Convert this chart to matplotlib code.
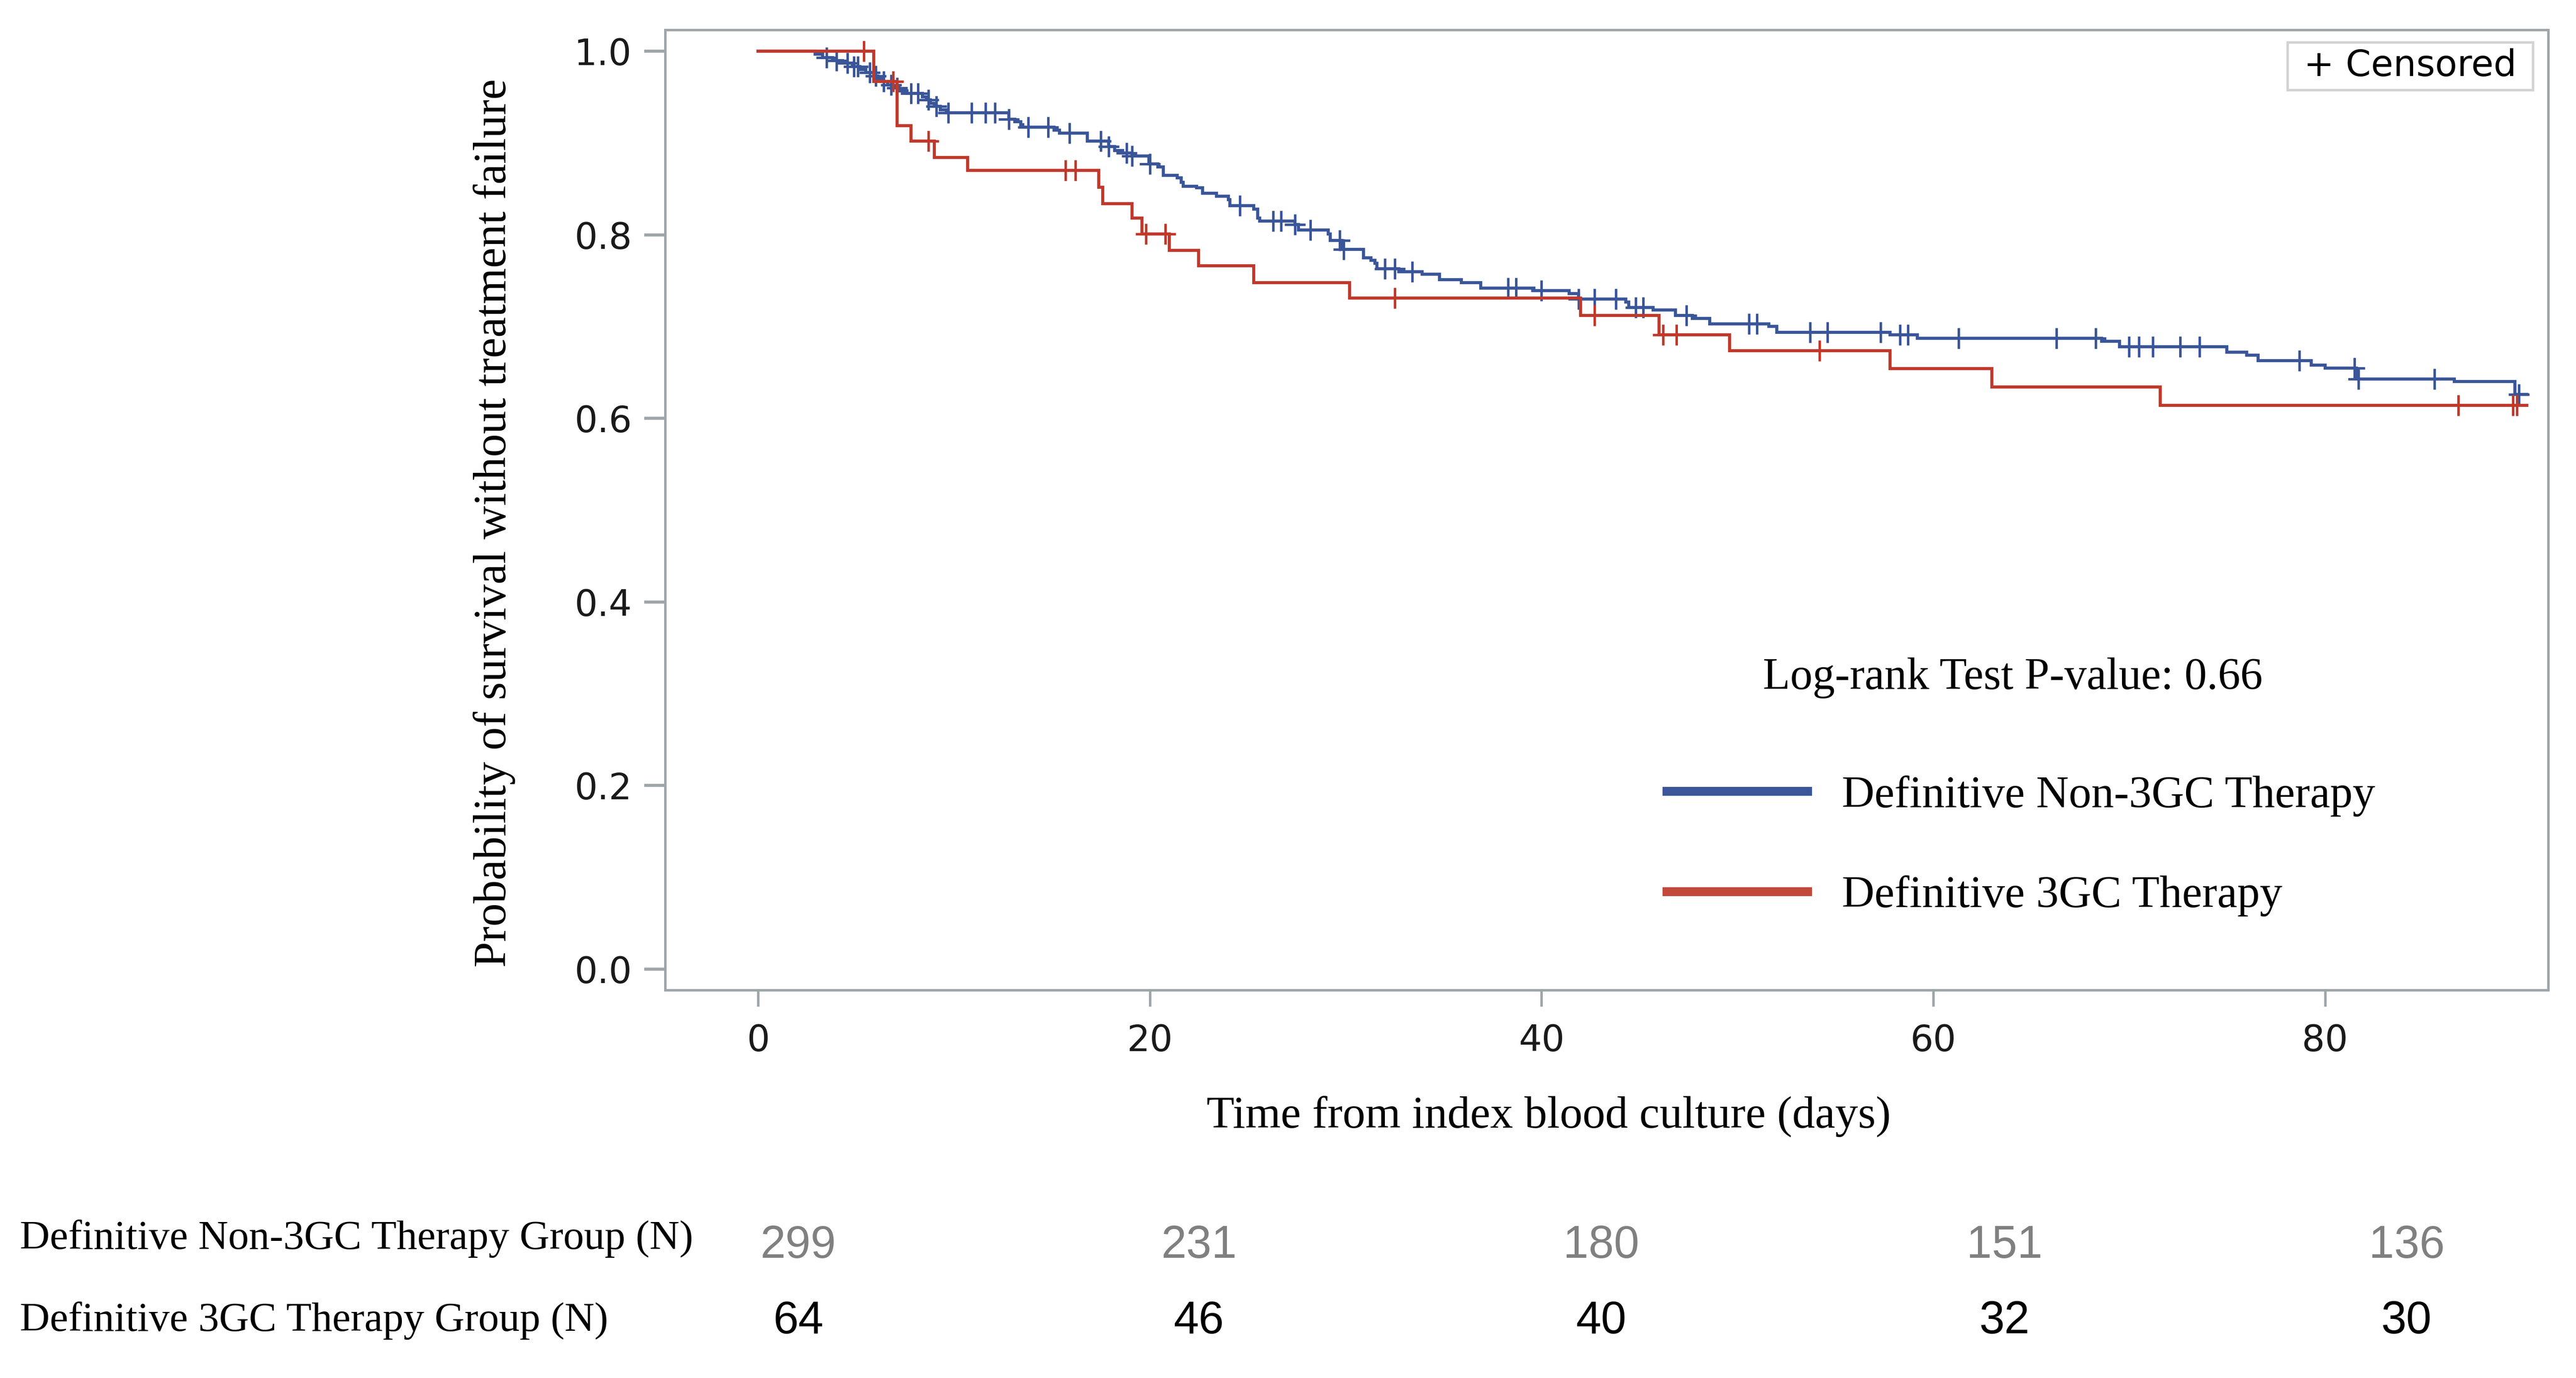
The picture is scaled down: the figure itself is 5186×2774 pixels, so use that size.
import numpy as np
import matplotlib
matplotlib.use('Agg')
import matplotlib.pyplot as plt
from matplotlib.lines import Line2D
from matplotlib.patches import Rectangle

# ---------------- data ----------------
# Definitive Non-3GC Therapy (blue): step times (days) and survival after each step
blue_times = [0, 2.9, 3.3, 3.8, 4.3, 4.8, 5.2, 5.5, 5.9, 6.1, 6.3, 6.6, 6.9, 7.2, 7.6,
              8.4, 8.6, 8.8, 9.0, 9.3, 9.6, 12.8, 13.1, 13.4, 13.5, 15.1, 15.4, 16.8,
              17.9, 18.2, 18.6, 19.1, 19.95, 20.4, 20.7, 21.4, 21.6, 21.7, 22.4, 22.7,
              23.4, 24.0, 24.1, 25.3, 25.5, 25.6, 27.4, 27.6, 29.1, 29.2, 29.8, 30.9,
              31.3, 31.5, 31.6, 32.7, 33.9, 34.8, 35.9, 36.9, 39.6, 41.4, 41.9, 44.3,
              44.45, 45.7, 46.85, 47.7, 48.6, 51.6, 52.0, 57.8, 59.2, 68.6, 69.5, 75.0,
              76.0, 76.6, 79.3, 80.0, 81.6, 86.6, 89.7]
blue_surv = [1.0, 0.997, 0.993, 0.990, 0.987, 0.983, 0.980, 0.977, 0.973, 0.970, 0.967,
             0.963, 0.960, 0.957, 0.954, 0.950, 0.947, 0.943, 0.940, 0.936, 0.933, 0.926,
             0.923, 0.920, 0.917, 0.914, 0.911, 0.902, 0.896, 0.892, 0.889, 0.886, 0.877,
             0.874, 0.865, 0.862, 0.857, 0.853, 0.851, 0.845, 0.842, 0.838, 0.832, 0.828,
             0.818, 0.815, 0.811, 0.805, 0.801, 0.794, 0.784, 0.775, 0.772, 0.769, 0.763,
             0.760, 0.757, 0.751, 0.748, 0.742, 0.739, 0.736, 0.730, 0.727, 0.721, 0.718,
             0.712, 0.709, 0.703, 0.700, 0.694, 0.691, 0.687, 0.684, 0.678, 0.672, 0.669,
             0.663, 0.658, 0.655, 0.643, 0.640, 0.626]
blue_end = 90.3
blue_censor = [3.5, 4.0, 4.55, 4.9, 5.1, 5.7, 6.0, 6.4, 6.8, 7.1, 7.8, 8.15, 8.7, 9.1,
               9.7, 10.9, 11.6, 12.1, 12.8, 13.8, 14.8, 15.9, 17.5, 17.9, 18.8, 19.1,
               20.0, 24.6, 26.3, 26.7, 27.4, 28.2, 29.7, 29.9, 32.0, 32.5, 33.4, 38.3,
               38.7, 40.0, 41.9, 42.7, 43.8, 44.8, 45.2, 47.4, 50.6, 51.0, 53.7, 54.6,
               57.3, 58.3, 58.7, 61.3, 66.3, 68.3, 70.0, 70.5, 71.2, 72.6, 73.6, 78.7,
               81.5, 81.7, 85.6, 89.9]

# Definitive 3GC Therapy (red)
red_times = [0, 5.9, 7.1, 7.8, 9.0, 10.7, 17.4, 17.6, 19.1, 19.6, 21.0, 22.5, 25.3,
             30.2, 42.0, 46.0, 49.6, 57.8, 63.0, 71.6]
red_surv = [1.0, 0.967, 0.919, 0.902, 0.884, 0.870, 0.852, 0.834, 0.818, 0.801, 0.783,
            0.766, 0.748, 0.731, 0.712, 0.691, 0.674, 0.654, 0.634, 0.614]
red_end = 90.3
red_censor = [5.4, 6.9, 8.7, 15.7, 16.2, 19.8, 20.8, 32.5, 42.7, 46.2, 46.9, 54.2,
              86.8, 89.6, 89.8]

x_ticks = [0, 20, 40, 60, 80]
y_ticks = [0.0, 0.2, 0.4, 0.6, 0.8, 1.0]

series_labels = ['Definitive Non-3GC Therapy', 'Definitive 3GC Therapy']
risk_labels = ['Definitive Non-3GC Therapy Group (N)', 'Definitive 3GC Therapy Group (N)']
risk_nonthreegc = [299, 231, 180, 151, 136]
risk_threegc = [64, 46, 40, 32, 30]
pvalue_text = 'Log-rank Test P-value: 0.66'

# ---------------- style ----------------
W, H, DPI = 5186, 2774, 300
BLUE = '#3A5699'
RED = '#C0392B'
RED_LEG = '#C2483C'
SPINE = '#9FA6AA'
SERIF = ['Liberation Serif', 'DejaVu Serif']
SANS = ['DejaVu Sans']
NARROW = ['Liberation Sans Narrow', 'Liberation Sans', 'DejaVu Sans']


def fx(px):
    return px / W


def fy(py):
    return 1 - py / H


fig = plt.figure(figsize=(W / DPI, H / DPI), dpi=DPI)
AX_L, AX_R, AX_T, AX_B = 1339, 5130, 60, 1993
ax = fig.add_axes([fx(AX_L), fy(AX_B), (AX_R - AX_L) / W, (AX_B - AX_T) / H])
ax.set_xlim(-4.75, 91.4)
ax.set_ylim(-0.0227, 1.0233)


def km(times, surv, end, censor, color):
    times = np.asarray(times, float)
    surv = np.asarray(surv, float)
    t = np.append(times, end)
    s = np.append(surv, surv[-1])
    ax.step(t, s, where='post', color=color, lw=1.5, solid_joinstyle='miter', zorder=3)
    idx = np.searchsorted(times, np.asarray(censor, float), side='right') - 1
    ax.plot(censor, surv[idx], ls='none', marker='+', ms=10, mew=1.2, color=color, zorder=3)


km(blue_times, blue_surv, blue_end, blue_censor, BLUE)
km(red_times, red_surv, red_end, red_censor, RED)

ax.set_xticks(x_ticks)
ax.set_xticklabels([str(v) for v in x_ticks])
ax.set_yticks(y_ticks)
ax.set_yticklabels([f'{v:.1f}' for v in y_ticks])
for lab in ax.get_xticklabels() + ax.get_yticklabels():
    lab.set_family(SANS)
    lab.set_color('#1a1a1a')
ax.tick_params(axis='x', length=8, width=1.2, color=SPINE, pad=8, labelsize=17.5)
ax.tick_params(axis='y', length=10, width=1.5, color=SPINE, pad=6, labelsize=17.5)
for sp in ax.spines.values():
    sp.set_color(SPINE)
    sp.set_linewidth(1.2)

W_AX = AX_R - AX_L
H_AX = AX_B - AX_T
ax.set_xlabel('Time from index blood culture (days)', family=SERIF, fontsize=22)
ax.xaxis.label.set_va('baseline')
ax.xaxis.set_label_coords((3118 - AX_L) / W_AX, (AX_B - 2270) / H_AX)
ax.set_ylabel('Probability of survival without treatment failure', family=SERIF, fontsize=22.4)
ax.yaxis.label.set_va('center')
ax.yaxis.set_label_coords((995 - AX_L) / W_AX, (AX_B - 1053) / H_AX)

# p-value text
fig.text(fx(4052), fy(1387), pvalue_text, ha='center', va='baseline', family=SERIF, fontsize=21.6)

# group legend
handles = [Line2D([], [], color=BLUE, lw=4.3), Line2D([], [], color=RED_LEG, lw=4.3)]
fig.legend(handles, series_labels, loc='center left', bbox_to_anchor=(fx(3356), fy(1703)),
           frameon=False, prop={'family': SERIF, 'size': 21.8}, handlelength=3.12,
           handletextpad=0.76, labelspacing=1.31, borderpad=0, borderaxespad=0)

# censored legend box
box = Rectangle((fx(4605), fy(181)), fx(5099) - fx(4605), fy(85) - fy(181),
                transform=fig.transFigure, fc='white', ec='#D3D3D3', lw=1.2, zorder=5)
fig.add_artist(box)
fig.text(fx(4852), fy(133), '+ Censored', ha='center', va='center', family=SANS,
         fontsize=17.5, zorder=6)

# number-at-risk table
num_x = [1607, 2414, 3224, 4035, 4845]
fig.text(fx(40), fy(2514), risk_labels[0], ha='left', va='baseline', family=SERIF, fontsize=20)
fig.text(fx(40), fy(2679), risk_labels[1], ha='left', va='baseline', family=SERIF, fontsize=20)
for xp, n1, n2 in zip(num_x, risk_nonthreegc, risk_threegc):
    fig.text(fx(xp), fy(2508), str(n1), ha='center', va='center', family=NARROW,
             fontsize=22, color='#808080')
    fig.text(fx(xp), fy(2660), str(n2), ha='center', va='center', family=NARROW,
             fontsize=22, color='black')

fig.savefig('out.png', dpi=DPI, facecolor='white')
